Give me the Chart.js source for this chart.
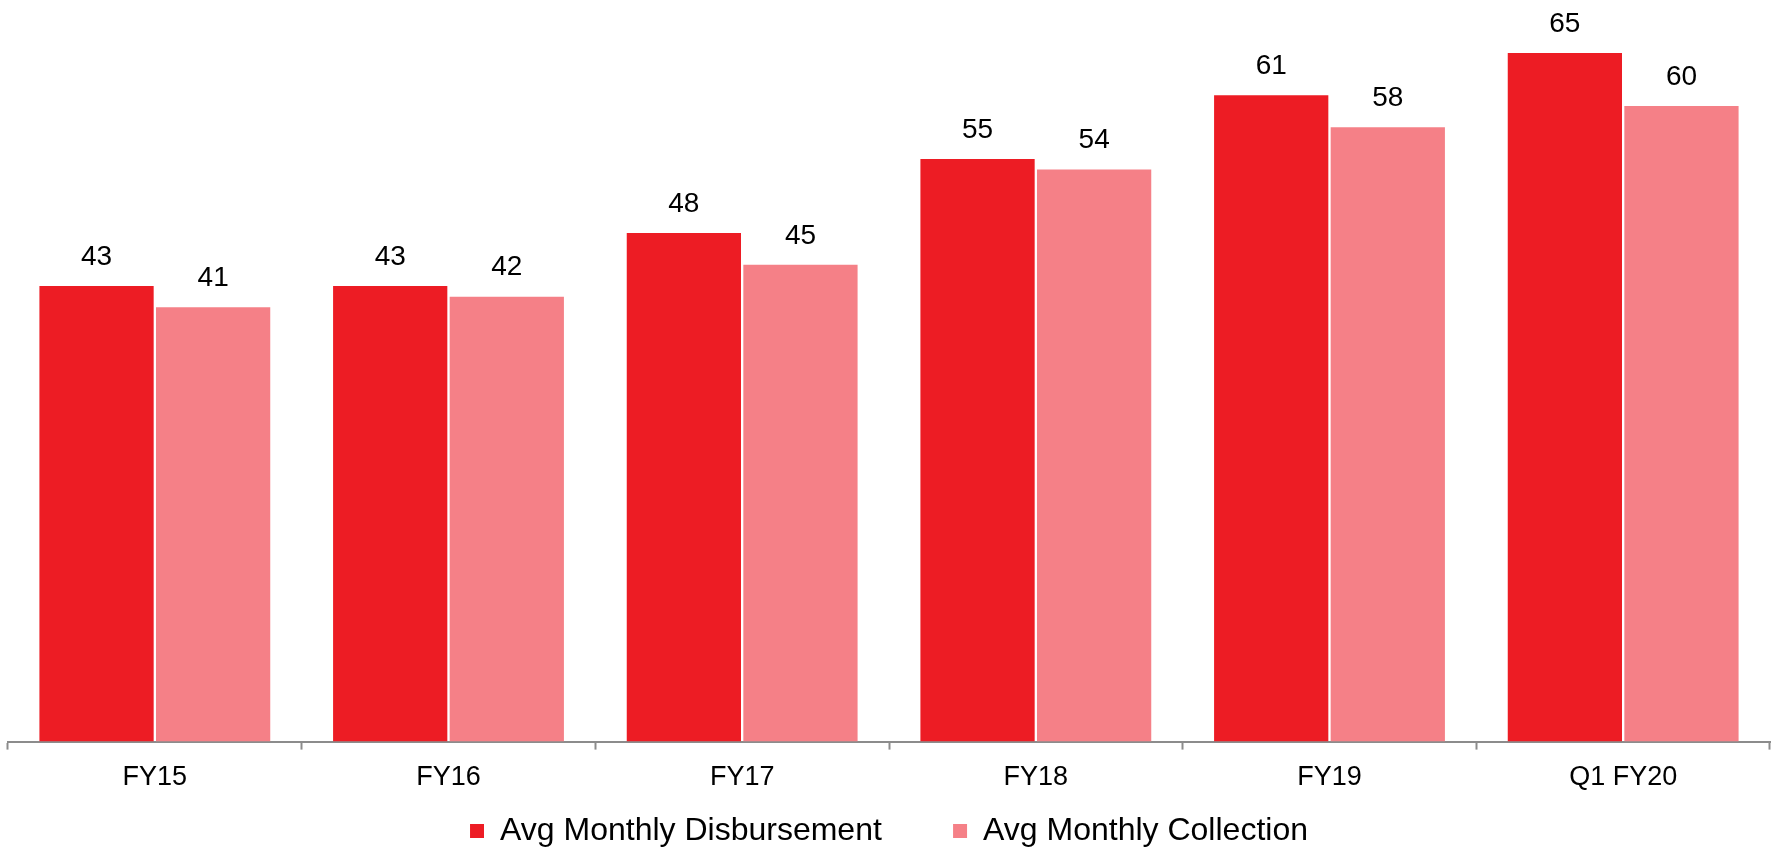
<!DOCTYPE html>
<html>
<head>
<meta charset="utf-8">
<script src="https://cdn.jsdelivr.net/npm/chart.js@4"></script>
<style>
  html, body { margin: 0; padding: 0; background: #fff; }
  #wrap { width: 1775px; height: 852px; }
</style>
</head>
<body>
<div id="wrap"><canvas id="myChart" width="1775" height="852"></canvas></div>
<script>
const categories = ['FY15', 'FY16', 'FY17', 'FY18', 'FY19', 'Q1 FY20'];
const disbursement = [43, 43, 48, 55, 61, 65];
const collection = [41, 42, 45, 54, 58, 60];

const font = "'Liberation Sans', Arial, sans-serif";

// values printed above each bar
const barLabels = {
    id: 'barLabels',
    afterDatasetsDraw(chart) {
        const ctx = chart.ctx;
        ctx.save();
        ctx.font = '28px ' + font;
        ctx.fillStyle = '#000';
        ctx.textAlign = 'center';
        ctx.textBaseline = 'middle';
        chart.data.datasets.forEach((ds, i) => {
            chart.getDatasetMeta(i).data.forEach((bar, j) => {
                ctx.fillText(ds.data[j], bar.x, bar.y - 29);
            });
        });
        ctx.restore();
    }
};

const data = {
    labels: categories,
    datasets: [{
        label: 'Avg Monthly Disbursement',
        data: disbursement,
        backgroundColor: '#ED1C24'
    }, {
        label: 'Avg Monthly Collection',
        data: collection,
        backgroundColor: '#F58087'
    }]
};

const config = {
    type: 'bar',
    data: data,
    options: {
        responsive: false,
        animation: false,
        events: [],
        layout: { padding: { left: 8, right: 5, top: 0, bottom: -5 } },
        datasets: {
            bar: { categoryPercentage: 0.794, barPercentage: 0.98 }
        },
        scales: {
            x: {
                grid: {
                    offset: true,
                    drawOnChartArea: false,
                    drawTicks: true,
                    tickLength: 8,
                    tickWidth: 2,
                    tickColor: '#8c8c8c'
                },
                border: { display: true, color: '#8c8c8c', width: 2 },
                ticks: {
                    color: '#000',
                    padding: 12,
                    font: { family: font, size: 27 }
                }
            },
            y: {
                display: false,
                min: 0,
                max: 70
            }
        },
        plugins: {
            legend: {
                position: 'bottom',
                labels: {
                    color: '#000',
                    boxWidth: 14,
                    boxHeight: 14,
                    padding: 9,
                    font: { family: font, size: 32 },
                    // wider gap between the two entries
                    generateLabels: (chart) => {
                        const items = Chart.defaults.plugins.legend.labels.generateLabels(chart);
                        items[0].text += '\u00a0\u00a0\u00a0\u00a0\u00a0\u00a0\u00a0';
                        return items;
                    }
                }
            },
            tooltip: { enabled: false }
        }
    },
    plugins: [barLabels]
};

const myChart = new Chart(document.getElementById('myChart'), config);
</script>
</body>
</html>
